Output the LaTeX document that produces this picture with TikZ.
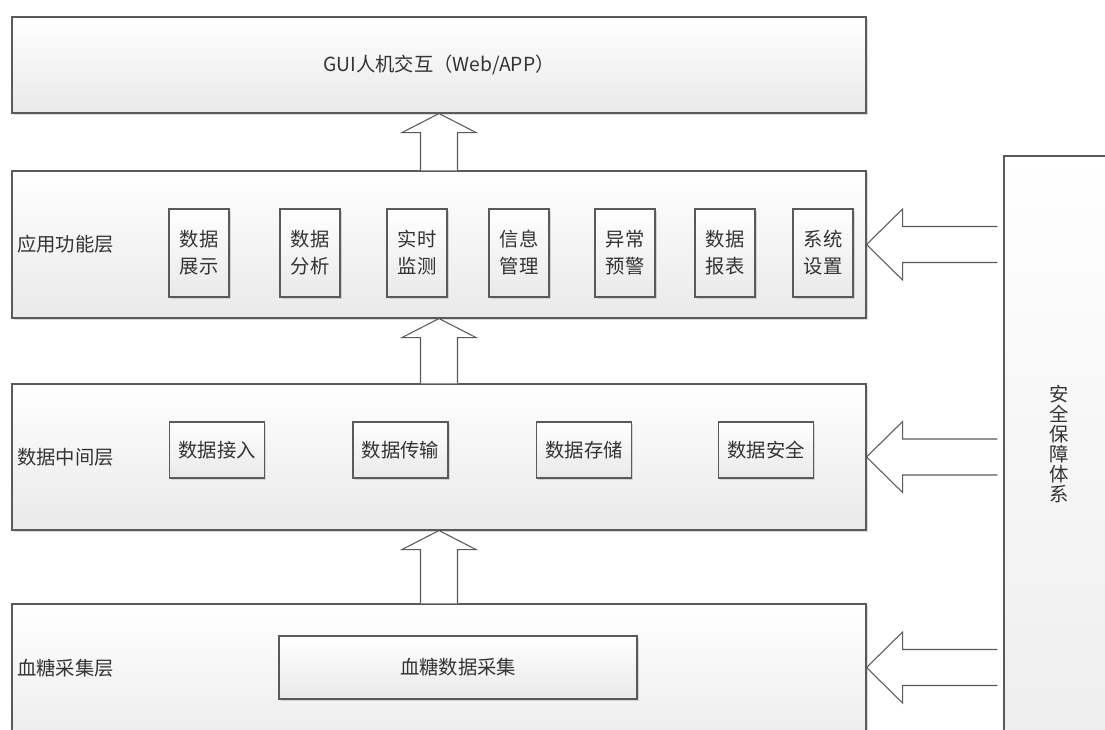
\documentclass[tikz,border=0pt]{standalone}
\usepackage{fontspec}
\setmainfont{Noto Sans CJK SC}
\usetikzlibrary{shadows,calc}
\definecolor{edge}{HTML}{5A5A5A}
\definecolor{txt}{HTML}{333333}
\definecolor{shadebot}{HTML}{E9E9E9}
\begin{document}
\begin{tikzpicture}[x=0.75pt,y=-0.75pt,
  layer/.style={draw=edge,line width=0.8pt,top color=white,bottom color=shadebot,
    drop shadow={shadow xshift=1.5pt,shadow yshift=-1.5pt,fill=black!40,opacity=0.35},
    inner sep=0pt,text=txt,font=\fontsize{14.5}{16}\selectfont},
  subbox/.style={draw=edge,line width=0.8pt,top color=white,bottom color=shadebot,
    drop shadow={shadow xshift=1.2pt,shadow yshift=-1.2pt,fill=black!40,opacity=0.35},
    inner sep=0pt,text=txt,align=center,font=\fontsize{14.5}{20.25}\selectfont},
  appbox/.style={subbox,minimum width=45pt,minimum height=66pt},
  databox/.style={subbox,minimum width=71.25pt,minimum height=42pt},
  lbl/.style={text=txt,font=\fontsize{14.5}{16}\selectfont,anchor=west,inner sep=0pt},
  barrow/.style={draw=edge,line width=0.8pt,fill=white,line join=miter},
]
\useasboundingbox (0,0) rectangle (1105,729);
\clip (0,0) rectangle (1105,729);
\fill[white] (0,0) rectangle (1105,729);

% layers
\node[layer,minimum width=640.5pt,minimum height=72pt] (gui) at (439,65) {GUI人机交互（Web/APP）};
\node[layer,minimum width=640.5pt,minimum height=110.25pt] (app) at (439,244.5) {};
\node[layer,minimum width=640.5pt,minimum height=109.5pt] (data) at (439,457) {};
\node[layer,minimum width=640.5pt,minimum height=124.5pt] (blood) at (439,687) {};
\node[layer,top color=white,bottom color=black!7,minimum width=94.5pt,minimum height=460.5pt] (sec) at (1067,463) {};

% layer labels
\node[lbl] (appl) at (17,244.5) {应用功能层};
\node[lbl] (datal) at (17,457) {数据中间层};
\node[lbl] (bloodl) at (17,668) {血糖采集层};
\node[text=txt,font=\fontsize{14.5}{15}\selectfont,align=center,inner sep=0pt] (sect) at (1059,444) {安\\全\\保\\障\\体\\系};

% application sub boxes
\node[appbox] (a1) at (199,253) {数据\\展示};
\node[appbox] (a2) at (310,253) {数据\\分析};
\node[appbox] (a3) at (417,253) {实时\\监测};
\node[appbox] (a4) at (519,253) {信息\\管理};
\node[appbox] (a5) at (625,253) {异常\\预警};
\node[appbox] (a6) at (725,253) {数据\\报表};
\node[appbox] (a7) at (823,253) {系统\\设置};

% data sub boxes
\node[databox] (d1) at (217,450) {数据接入};
\node[databox] (d2) at (400.5,450) {数据传输};
\node[databox] (d3) at (584,450) {数据存储};
\node[databox] (d4) at (766,450) {数据安全};

% blood sub box
\node[subbox,minimum width=268.5pt,minimum height=47.25pt] (bsub) at (458,667.5) {血糖数据采集};

% up block arrows
\draw[barrow] let \p1=(gui.south), \p2=(app.north) in
  (\x1-13.875pt,\y2) -- (\x1-13.875pt,\y1-14.25pt) -- (\x1-27.75pt,\y1-14.25pt) -- (\x1,\y1)
  -- (\x1+27.75pt,\y1-14.25pt) -- (\x1+13.875pt,\y1-14.25pt) -- (\x1+13.875pt,\y2);
\draw[barrow] let \p1=(app.south), \p2=(data.north) in
  (\x1-13.875pt,\y2) -- (\x1-13.875pt,\y1-14.25pt) -- (\x1-27.75pt,\y1-14.25pt) -- (\x1,\y1)
  -- (\x1+27.75pt,\y1-14.25pt) -- (\x1+13.875pt,\y1-14.25pt) -- (\x1+13.875pt,\y2);
\draw[barrow] let \p1=(data.south), \p2=(blood.north) in
  (\x1-13.875pt,\y2) -- (\x1-13.875pt,\y1-14.25pt) -- (\x1-27.75pt,\y1-14.25pt) -- (\x1,\y1)
  -- (\x1+27.75pt,\y1-14.25pt) -- (\x1+13.875pt,\y1-14.25pt) -- (\x1+13.875pt,\y2);

% left block arrows
\draw[barrow] let \p1=(app.east), \p2=(sec.west) in
  (\x2-4.5pt,\y1+13.5pt) -- (\x1+27pt,\y1+13.5pt) -- (\x1+27pt,\y1+26.6pt) -- (\x1,\y1)
  -- (\x1+27pt,\y1-26.6pt) -- (\x1+27pt,\y1-13.5pt) -- (\x2-4.5pt,\y1-13.5pt);
\draw[barrow] let \p1=(data.east), \p2=(sec.west) in
  (\x2-4.5pt,\y1+13.5pt) -- (\x1+27pt,\y1+13.5pt) -- (\x1+27pt,\y1+26.6pt) -- (\x1,\y1)
  -- (\x1+27pt,\y1-26.6pt) -- (\x1+27pt,\y1-13.5pt) -- (\x2-4.5pt,\y1-13.5pt);
\draw[barrow] let \p1=(blood.east |- bsub.east), \p2=(sec.west) in
  (\x2-4.5pt,\y1+13.5pt) -- (\x1+27pt,\y1+13.5pt) -- (\x1+27pt,\y1+26.6pt) -- (\x1,\y1)
  -- (\x1+27pt,\y1-26.6pt) -- (\x1+27pt,\y1-13.5pt) -- (\x2-4.5pt,\y1-13.5pt);
\end{tikzpicture}
\end{document}
